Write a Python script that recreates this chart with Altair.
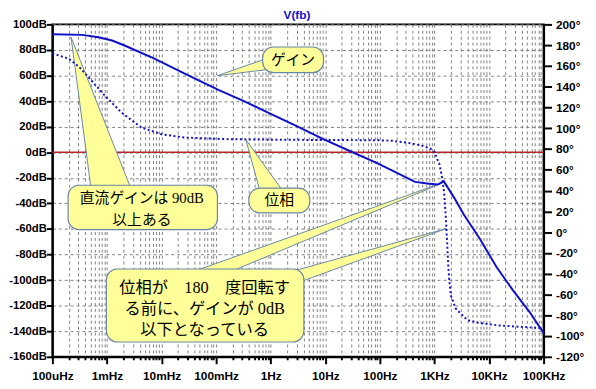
import altair as alt
import pandas as pd

# ---------------- data ----------------
gain_freq = [1e-4, 3.5e-4, 7e-4, 1.24e-3, 2.1e-3, 7.4e-3, 2.6e-2, 0.11, 0.33, 1.0, 3.0, 9.2,
             31.6, 83, 166, 440, 800, 1150, 1480, 2290, 3470, 6900, 13800, 27500, 55000, 1e5]
gain_db = [92.3, 91.8, 90.0, 87.4, 83.5, 73.2, 61.7, 48.8, 39.8, 30.0, 20.5, 10.3,
           0.0, -8.0, -14.2, -23.2, -24.6, -25.3, -22.6, -35.5, -48.9, -68.2, -90.0, -108.0, -124.8, -141.5]

phase_freq = [1e-4, 2.0e-4, 3.1e-4, 5.4e-4, 9.3e-4, 1.86e-3, 4.3e-3, 0.01, 0.026, 0.135, 1.0, 10,
              83, 166, 330, 440, 660, 870, 1000, 1150, 1230, 1410, 1510, 1620, 1700, 1780, 1860,
              2000, 2450, 4000, 6900, 15800, 1e5]
phase_deg = [172, 167, 159, 145, 131, 115, 100.6, 94.3, 91.1, 89.6, 89.0, 88.7,
             88.5, 88.0, 86.0, 84.8, 82.5, 80.0, 77.0, 69.0, 65.8, 50.0, 37.0, 13.0, -8.0, -30.0, -45.0,
             -61.0, -73.5, -84.6, -87.7, -89.9, -92.5]

x_tick_labels = ["100uHz", "1mHz", "10mHz", "100mHz", "1Hz", "10Hz", "100Hz", "1KHz", "10KHz", "100KHz"]
db_ticks = list(range(-160, 101, 20))
deg_ticks = list(range(-120, 201, 20))
chart_title = ["V(fb)"]

# annotation callouts (log10 frequency, dB)
box_x1 = [-0.148, -3.712, -0.40, -3.01]
box_x2 = [0.968, -0.976, 0.716, 0.608]
box_y1 = [82.3, -25.8, -28.1, -91.3]
box_y2 = [62.2, -60.5, -47.4, -148.4]

wedges = [
    [(-0.976, 59.9), (-0.094, 73.0), (-0.094, 64.5)],
    [(-3.658, 90.0), (-3.298, -26.5), (-2.578, -26.5)],
    [(-0.454, 9.7), (-0.202, -29.6), (0.212, -29.6)],
    [(3.182, -23.4), (-1.39, -92.9), (-0.706, -92.9)],
    [(3.218, -59.7), (0.356, -93.6), (0.590, -100.6)],
]

note_text = ["ゲイン", "直流ゲインは 90dB", "以上ある", "位相",
             "位相が\u3000180\u3000度回転す", "る前に、ゲインが 0dB", "以下となっている"]
note_x = [0.41, -2.36, -2.36, 0.158, -1.21, -1.21, -1.21]
note_y = [72.2, -35.8, -52.8, -37.3, -106.0, -123.0, -139.2]
note_size = [15, 15, 15, 15, 16.5, 16.5, 16.5]

# ---------------- styling ----------------
BLUE = "#1010C8"
RED = "#B82828"
YELLOW = "#FFFF99"
EDGE = "#6A88A2"
GRID = "#808080"
AXFONT = "Liberation Sans"
NOTEFONT = "Liberation Serif, Noto Sans CJK JP"

gain_df = pd.DataFrame({"f": gain_freq, "db": gain_db})
phase_df = pd.DataFrame({"f": phase_freq, "deg": phase_deg})
box_df = pd.DataFrame({"f1": [10 ** v for v in box_x1], "f2": [10 ** v for v in box_x2],
                       "y1": box_y1, "y2": box_y2})
note_df = pd.DataFrame({"f": [10 ** v for v in note_x], "db": note_y, "t": note_text, "s": note_size})

rows = []
for wi, verts in enumerate(wedges):
    v = sorted(verts, key=lambda p: p[0])
    (x0, y0), (x1, y1), (x2, y2) = v
    yi = y0 + (y2 - y0) * ((x1 - x0) / (x2 - x0)) if x2 != x0 else y1
    rows.append({"w": wi, "f": 10 ** x0, "a": y0, "b": y0})
    rows.append({"w": wi, "f": 10 ** x1, "a": y1, "b": yi})
    rows.append({"w": wi, "f": 10 ** x2, "a": y2, "b": y2})
wedge_df = pd.DataFrame(rows)

x_values = [m * 10.0 ** e for e in range(-4, 5) for m in range(1, 10)] + [1e5]
is_decade = "abs(log(datum.value)/LN10 - round(log(datum.value)/LN10)) < 0.001"
label_expr = ""
for i, lab in enumerate(x_tick_labels):
    label_expr += f"abs(log(datum.value)/LN10 - ({i - 4})) < 0.001 ? '{lab}' : "
label_expr += "''"

xscale = alt.Scale(type="log", domain=[1e-4, 1e5], nice=False)
dbscale = alt.Scale(domain=[-160, 100], nice=False, zero=False)
degscale = alt.Scale(domain=[-120, 200], nice=False, zero=False)

x_axis = alt.Axis(values=x_values, labelExpr=label_expr, grid=True, gridDash=[3, 3],
                  gridColor=GRID, gridWidth=1, tickColor="black", tickWidth=2,
                  tickSize={"condition": {"test": is_decade, "value": 7}, "value": 3},
                  domainColor="black", domainWidth=2, labelFont=AXFONT, labelFontSize=12,
                  labelFontWeight="bold", labelColor="black", labelPadding=7, labelFlush=False,
                  labelOverlap=False, title=None)
db_axis = alt.Axis(values=db_ticks, labelExpr="datum.value + 'dB'", grid=True, gridDash=[3, 3],
                   gridColor=GRID, gridWidth=1, tickColor="black", tickWidth=2, tickSize=6,
                   domainColor="black", domainWidth=2, labelFont=AXFONT, labelFontSize=11.5,
                   labelFontWeight="bold", labelColor="black", labelPadding=0, labelFlush=False,
                   labelOverlap=False, title=None)
deg_axis = alt.Axis(values=deg_ticks, orient="right", labelExpr="datum.value + '°'", grid=False,
                    tickColor="black", tickWidth=2, tickSize=8, domainColor="black", domainWidth=2,
                    labelFont=AXFONT, labelFontSize=12, labelFontWeight="bold", labelColor="black",
                    labelPadding=4, labelFlush=False, labelOverlap=False, title=None)

X = dict(scale=xscale, axis=x_axis)
Y = dict(scale=dbscale, axis=db_axis)

red = alt.Chart(pd.DataFrame({"db": [0]})).mark_rule(color=RED, strokeWidth=1.5).encode(
    y=alt.Y("db:Q", **Y))

gain = alt.Chart(gain_df).mark_line(color=BLUE, strokeWidth=2).encode(
    x=alt.X("f:Q", **X),
    y=alt.Y("db:Q", **Y))

wedge = alt.Chart(wedge_df).mark_area(fill=YELLOW, stroke=EDGE, strokeWidth=1, opacity=1).encode(
    x=alt.X("f:Q", **X),
    y=alt.Y("a:Q", **Y),
    y2="b:Q",
    detail="w:N")

boxes = alt.Chart(box_df).mark_rect(fill=YELLOW, stroke=EDGE, strokeWidth=1.2, cornerRadius=11).encode(
    x=alt.X("f1:Q", **X), x2="f2:Q",
    y=alt.Y("y1:Q", **Y), y2="y2:Q")

notes = alt.Chart(note_df).mark_text(font=NOTEFONT, color="black", align="center",
                                     baseline="middle").encode(
    x=alt.X("f:Q", **X),
    y=alt.Y("db:Q", **Y),
    text="t:N",
    size=alt.Size("s:Q", scale=None, legend=None))

phase = alt.Chart(phase_df).mark_line(color=BLUE, strokeWidth=2, strokeDash=[2, 2.5]).encode(
    x=alt.X("f:Q", **X),
    y=alt.Y("deg:Q", scale=degscale, axis=deg_axis))

title_mark = alt.Chart(pd.DataFrame({"t": chart_title})).mark_text(
    font=AXFONT, fontSize=12, fontWeight="bold", color=BLUE, align="center",
    baseline="alphabetic").encode(text="t:N", x=alt.value(248), y=alt.value(-5))

db_layer = alt.layer(red, wedge, boxes, gain, notes)

chart = alt.layer(db_layer, phase, title_mark).resolve_scale(y="independent").properties(
    width=498, height=337,
    autosize=alt.AutoSizeParams(type="none"),
    padding={"left": 45, "top": 14, "right": 45, "bottom": 28},
    background="white",
).configure_view(stroke="black", strokeWidth=2)

chart.save("out.html", embed_options={"renderer": "svg", "actions": False})
